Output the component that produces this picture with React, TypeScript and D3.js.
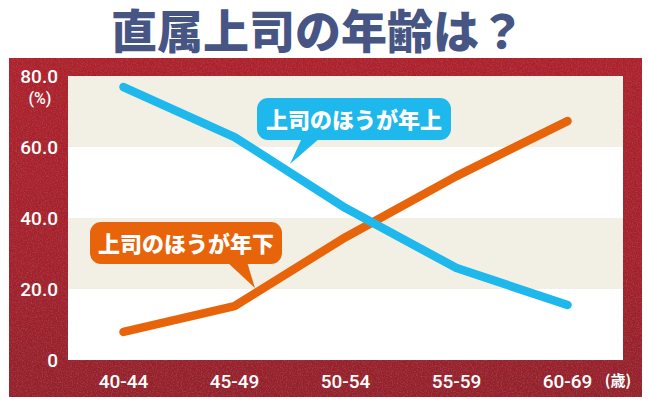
import React from "react";
import * as d3 from "d3";

const categories = ["40-44", "45-49", "50-54", "55-59", "60-69"];
const olderBoss = [76.9, 62.8, 42.8, 25.9, 15.5];
const youngerBoss = [7.9, 15.2, 34.6, 51.8, 67.3];
const yTicks = [0, 20, 40, 60, 80];
const bands = [[60, 80], [20, 40]];
const title = "直属上司の年齢は？";
const olderLabel = "上司のほうが年上";
const youngerLabel = "上司のほうが年下";

const W = 648, H = 405;
const plot = { left: 68, right: 623, top: 76, bottom: 360 };
const BLUE = "#1fb8ec";
const ORANGE = "#e8640a";
const BEIGE = "#f2f0e5";
const NAVY = "#465584";
const NUM_FONT = "Roboto, 'Noto Sans', sans-serif";
const JP_FONT = "'Noto Sans CJK JP', 'Noto Sans', sans-serif";

export default function App() {
  const x = d3.scaleBand<string>().domain(categories).range([plot.left, plot.right]);
  const y = d3.scaleLinear().domain([0, 80]).range([plot.bottom, plot.top]);
  const cx = (c: string) => (x(c) ?? 0) + x.bandwidth() / 2;
  const line = d3.line<number>().x((_, i) => cx(categories[i])).y((d) => y(d));

  return (
    <svg width={W} height={H} style={{ position: "absolute", left: 0, top: 0 }}>
      <defs>
        <linearGradient id="redg" x1="0" y1="0" x2="0" y2="1">
          <stop offset="0" stopColor="#b0212a" />
          <stop offset="0.6" stopColor="#a6222a" />
          <stop offset="1" stopColor="#952329" />
        </linearGradient>
        <filter id="tex" x="0" y="0" width="100%" height="100%">
          <feTurbulence type="fractalNoise" baseFrequency="0.8" numOctaves="2" seed="4" result="n" />
          <feColorMatrix in="n" type="matrix"
            values="0 0 0 0 0.35  0 0 0 0 0.08  0 0 0 0 0.12  1.4 0 0 0 -0.62" result="dots" />
          <feComposite in="dots" in2="SourceGraphic" operator="in" result="d2" />
          <feMerge>
            <feMergeNode in="SourceGraphic" />
            <feMergeNode in="d2" />
          </feMerge>
        </filter>
      </defs>
      <rect x={0} y={0} width={W} height={H} fill="#ffffff" />
      <rect x={9} y={58} width={633} height={339} fill="url(#redg)" filter="url(#tex)" />
      <rect x={plot.left} y={plot.top} width={plot.right - plot.left} height={plot.bottom - plot.top} fill="#ffffff" />
      {bands.map(([a, b]) => (
        <rect key={a} x={plot.left} y={y(b)} width={plot.right - plot.left} height={y(a) - y(b)} fill={BEIGE} />
      ))}

      <text x={318} y={48} textAnchor="middle" fontFamily={JP_FONT} fontWeight={900} fontSize={46}
        fill={NAVY} stroke="#ffffff" strokeWidth={1} paintOrder="stroke">{title}</text>

      {yTicks.map((t) => (
        <text key={t} x={58} y={y(t) + 7} textAnchor="end" fontFamily={NUM_FONT} fontSize={19}
          fontWeight={500} fill="#ffffff">{t === 0 ? "0" : t.toFixed(1)}</text>
      ))}
      <text x={40} y={104} textAnchor="middle" fontFamily={NUM_FONT} fontSize={16} fontWeight={500} fill="#ffffff">(%)</text>

      {categories.map((c) => (
        <text key={c} x={cx(c)} y={388} textAnchor="middle" fontFamily={NUM_FONT} fontSize={19}
          fontWeight={500} fill="#ffffff">{c}</text>
      ))}
      <text x={618} y={386} textAnchor="middle" fontFamily={JP_FONT} fontSize={15} fontWeight={700} fill="#ffffff">(歳)</text>

      <path d={line(youngerBoss) ?? ""} fill="none" stroke={ORANGE} strokeWidth={8.5}
        strokeLinecap="round" strokeLinejoin="round" />
      <path d={line(olderBoss) ?? ""} fill="none" stroke={BLUE} strokeWidth={8.5}
        strokeLinecap="round" strokeLinejoin="round" />

      {/* orange callout */}
      <path d="M227,262 L255,288 L247,262 Z" fill={ORANGE} />
      <rect x={90} y={222} width={192} height={42} rx={11} fill={ORANGE} />
      <text x={186} y={252} textAnchor="middle" fontFamily={JP_FONT} fontWeight={900} fontSize={22}
        fill="#ffffff">{youngerLabel}</text>

      {/* blue callout */}
      <path d="M302,138 L290,164 L320,138 Z" fill={BLUE} />
      <rect x={257} y={98} width={194} height={42} rx={11} fill={BLUE} />
      <text x={354} y={128} textAnchor="middle" fontFamily={JP_FONT} fontWeight={900} fontSize={22}
        fill="#ffffff">{olderLabel}</text>
    </svg>
  );
}
